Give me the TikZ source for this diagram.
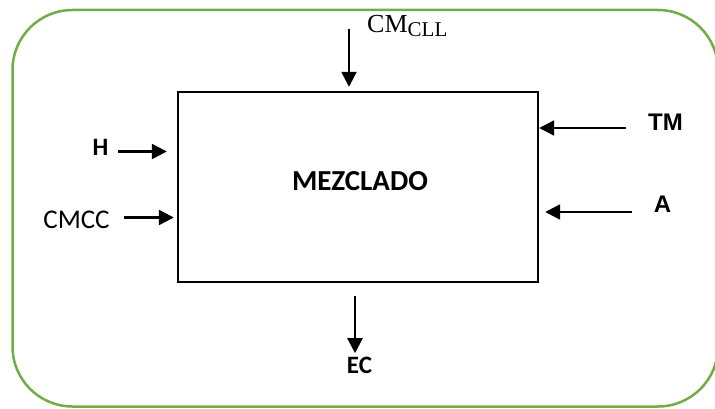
\documentclass[tikz,border=0pt]{standalone}
\usepackage{fontspec}
\setmainfont{Carlito}
\newfontfamily\timesfont{Liberation Serif}
\newfontfamily\arialfont{Liberation Sans}
\usepackage{tikz}
\usetikzlibrary{positioning}
\usetikzlibrary{arrows.meta}
\definecolor{framegreen}{RGB}{112,173,71}
\tikzset{
   block/.style={draw, line width=2.4pt, minimum width=360pt, minimum height=190pt, inner sep=0pt},
   flow/.style={line width=2.4pt, -{Triangle[width=15pt,length=15pt]}},
   lbl/.style={inner sep=0pt, font=\bfseries\fontsize{25}{25}\selectfont},
   albl/.style={inner sep=0pt, font=\arialfont\bfseries\fontsize{24}{24}\selectfont}
}

\begin{document}
\begin{tikzpicture}[x=1pt,y=1pt]
      \useasboundingbox (0,0) rectangle (715,408);
      \draw[framegreen, line width=2.5pt, rounded corners=60pt] (12.5,1.5) rectangle (718,398);

      \node[block] (mix) at (358,221) {};
      \node[inner sep=0pt, font=\bfseries\fontsize{29}{29}\selectfont] (mixtxt) at (360,227) {MEZCLADO};

      \coordinate[above left =4pt and 9pt of mix.north] (cm-tip);
      \coordinate[above=58pt of cm-tip] (cm-tail);
      \coordinate[above left =35.5pt and 10pt of mix.west] (h-tip);
      \coordinate[left=49pt of h-tip] (h-tail);
      \coordinate[below left =30.5pt and 3pt of mix.west] (cmcc-tip);
      \coordinate[left=50pt of cmcc-tip] (cmcc-tail);
      \coordinate[above=59pt of mix.east] (tm-tip);
      \coordinate[right=87pt of tm-tip] (tm-tail);
      \coordinate[below right=25pt and 6pt of mix.east] (a-tip);
      \coordinate[right=87pt of a-tip] (a-tail);
      \coordinate[below left =13pt and 3pt of mix.south] (ec-tail);
      \coordinate[below=57pt of ec-tail] (ec-tip);

      \node[inner sep=0pt, anchor=base west, font=\timesfont\fontsize{26}{26}\selectfont] (cmll) at (367,375)
         {CM\raisebox{-4pt}{\fontsize{21}{21}\selectfont CLL}};
      \node[lbl] (h) at (100.5,260.5) {H};
      \node[inner sep=0pt, font=\fontsize{27}{27}\selectfont] (cmcc) at (76.5,188) {CMCC};
      \node[albl] (tm) at (665.5,285.5) {TM};
      \node[albl] (a) at (662.5,203.5) {A};
      \node[lbl] (ec) at (359.5,42.5) {EC};

      \draw[flow] (cm-tail) -- (cm-tip);
      \draw[flow] (h-tail) -- (h-tip);
      \draw[flow] (cmcc-tail) -- (cmcc-tip);
      \draw[flow] (tm-tail) -- (tm-tip);
      \draw[flow] (a-tail) -- (a-tip);
      \draw[flow] (ec-tail) -- (ec-tip);
\end{tikzpicture}
\end{document}
